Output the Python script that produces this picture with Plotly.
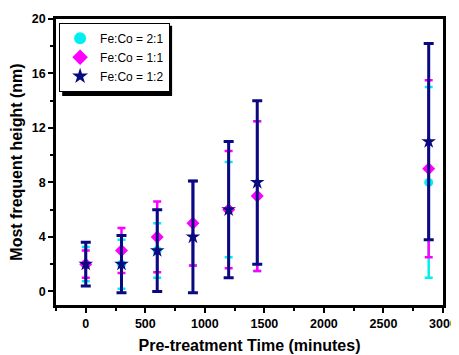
import plotly.graph_objects as go

# ---- data ----
time_min = [0, 300, 600, 900, 1200, 1440, 2880]

h_21 = [2, 2, 3, 5, 6, 7, 8]
err_21 = [1.25, 1.8, 2.0, 3.1, 3.5, 5.5, 7.0]

h_11 = [2, 3, 4, 5, 6, 7, 9]
err_11 = [1.0, 1.65, 2.6, 3.1, 4.3, 5.5, 6.5]

h_12 = [2, 2, 3, 4, 6, 8, 11]
err_12 = [1.6, 2.1, 3.0, 4.1, 5.0, 6.0, 7.2]

names = ["Fe:Co = 2:1", "Fe:Co = 1:1", "Fe:Co = 1:2"]
colors = ["#00F0F0", "#FF00FF", "#0A0A80"]

fig = go.Figure()
fig.add_trace(go.Scatter(
    x=time_min, y=h_21, mode="markers", name=names[0],
    marker=dict(symbol="circle", size=9, color=colors[0]),
    error_y=dict(type="data", array=err_21, color=colors[0], thickness=2.5, width=4),
))
fig.add_trace(go.Scatter(
    x=time_min, y=h_11, mode="markers", name=names[1],
    marker=dict(symbol="diamond", size=10, color=colors[1]),
    error_y=dict(type="data", array=err_11, color=colors[1], thickness=2.5, width=4),
))
fig.add_trace(go.Scatter(
    x=time_min, y=h_12, mode="markers", name=names[2],
    marker=dict(symbol="star", size=11, color=colors[2]),
    error_y=dict(type="data", array=err_12, color=colors[2], thickness=3, width=5),
))

# legend shadow (offset black box behind the legend)
fig.add_shape(type="rect", xref="paper", yref="paper",
              x0=0.016, x1=0.300, y0=0.731, y1=0.976,
              fillcolor="black", line=dict(width=0), layer="above")

# the page body adds an 8px margin, so the figure is 8px smaller
fig.update_layout(
    width=451, height=347,
    margin=dict(l=48, r=16, t=11, b=50),
    paper_bgcolor="white", plot_bgcolor="white",
    font=dict(family="Liberation Sans, Arial", color="black"),
    showlegend=True,
    legend=dict(x=0.008, y=0.987, xanchor="left", yanchor="top",
                bgcolor="white", bordercolor="black", borderwidth=1,
                font=dict(size=12, family="Liberation Sans, Arial"),
                itemsizing="constant", tracegroupgap=0,
                itemwidth=30),
    xaxis=dict(
        range=[-250, 3000], tickvals=[0, 500, 1000, 1500, 2000, 2500, 3000],
        ticks="outside", ticklen=5, tickwidth=2, tickcolor="black",
        minor=dict(ticks="outside", dtick=250, ticklen=3, tickwidth=2, tickcolor="black"),
        showline=True, linecolor="black", linewidth=2.5, mirror=True,
        showgrid=False, zeroline=False, automargin=False,
        tickfont=dict(size=12.5, family="Liberation Sans, Arial", weight="bold"),
        title=dict(text="<b>Pre-treatment Time (minutes)</b>", font=dict(size=16), standoff=11),
    ),
    yaxis=dict(
        range=[-1, 20], tickvals=[0, 4, 8, 12, 16, 20],
        ticks="outside", ticklen=5, tickwidth=2, tickcolor="black",
        minor=dict(ticks="outside", dtick=2, ticklen=3, tickwidth=2, tickcolor="black"),
        showline=True, linecolor="black", linewidth=2.5, mirror=True,
        showgrid=False, zeroline=False, automargin=False,
        tickfont=dict(size=12.5, family="Liberation Sans, Arial", weight="bold"),
        title=dict(text="<b>Most frequent height (nm)</b>", font=dict(size=16), standoff=6),
    ),
)

fig.write_html("out.html")
